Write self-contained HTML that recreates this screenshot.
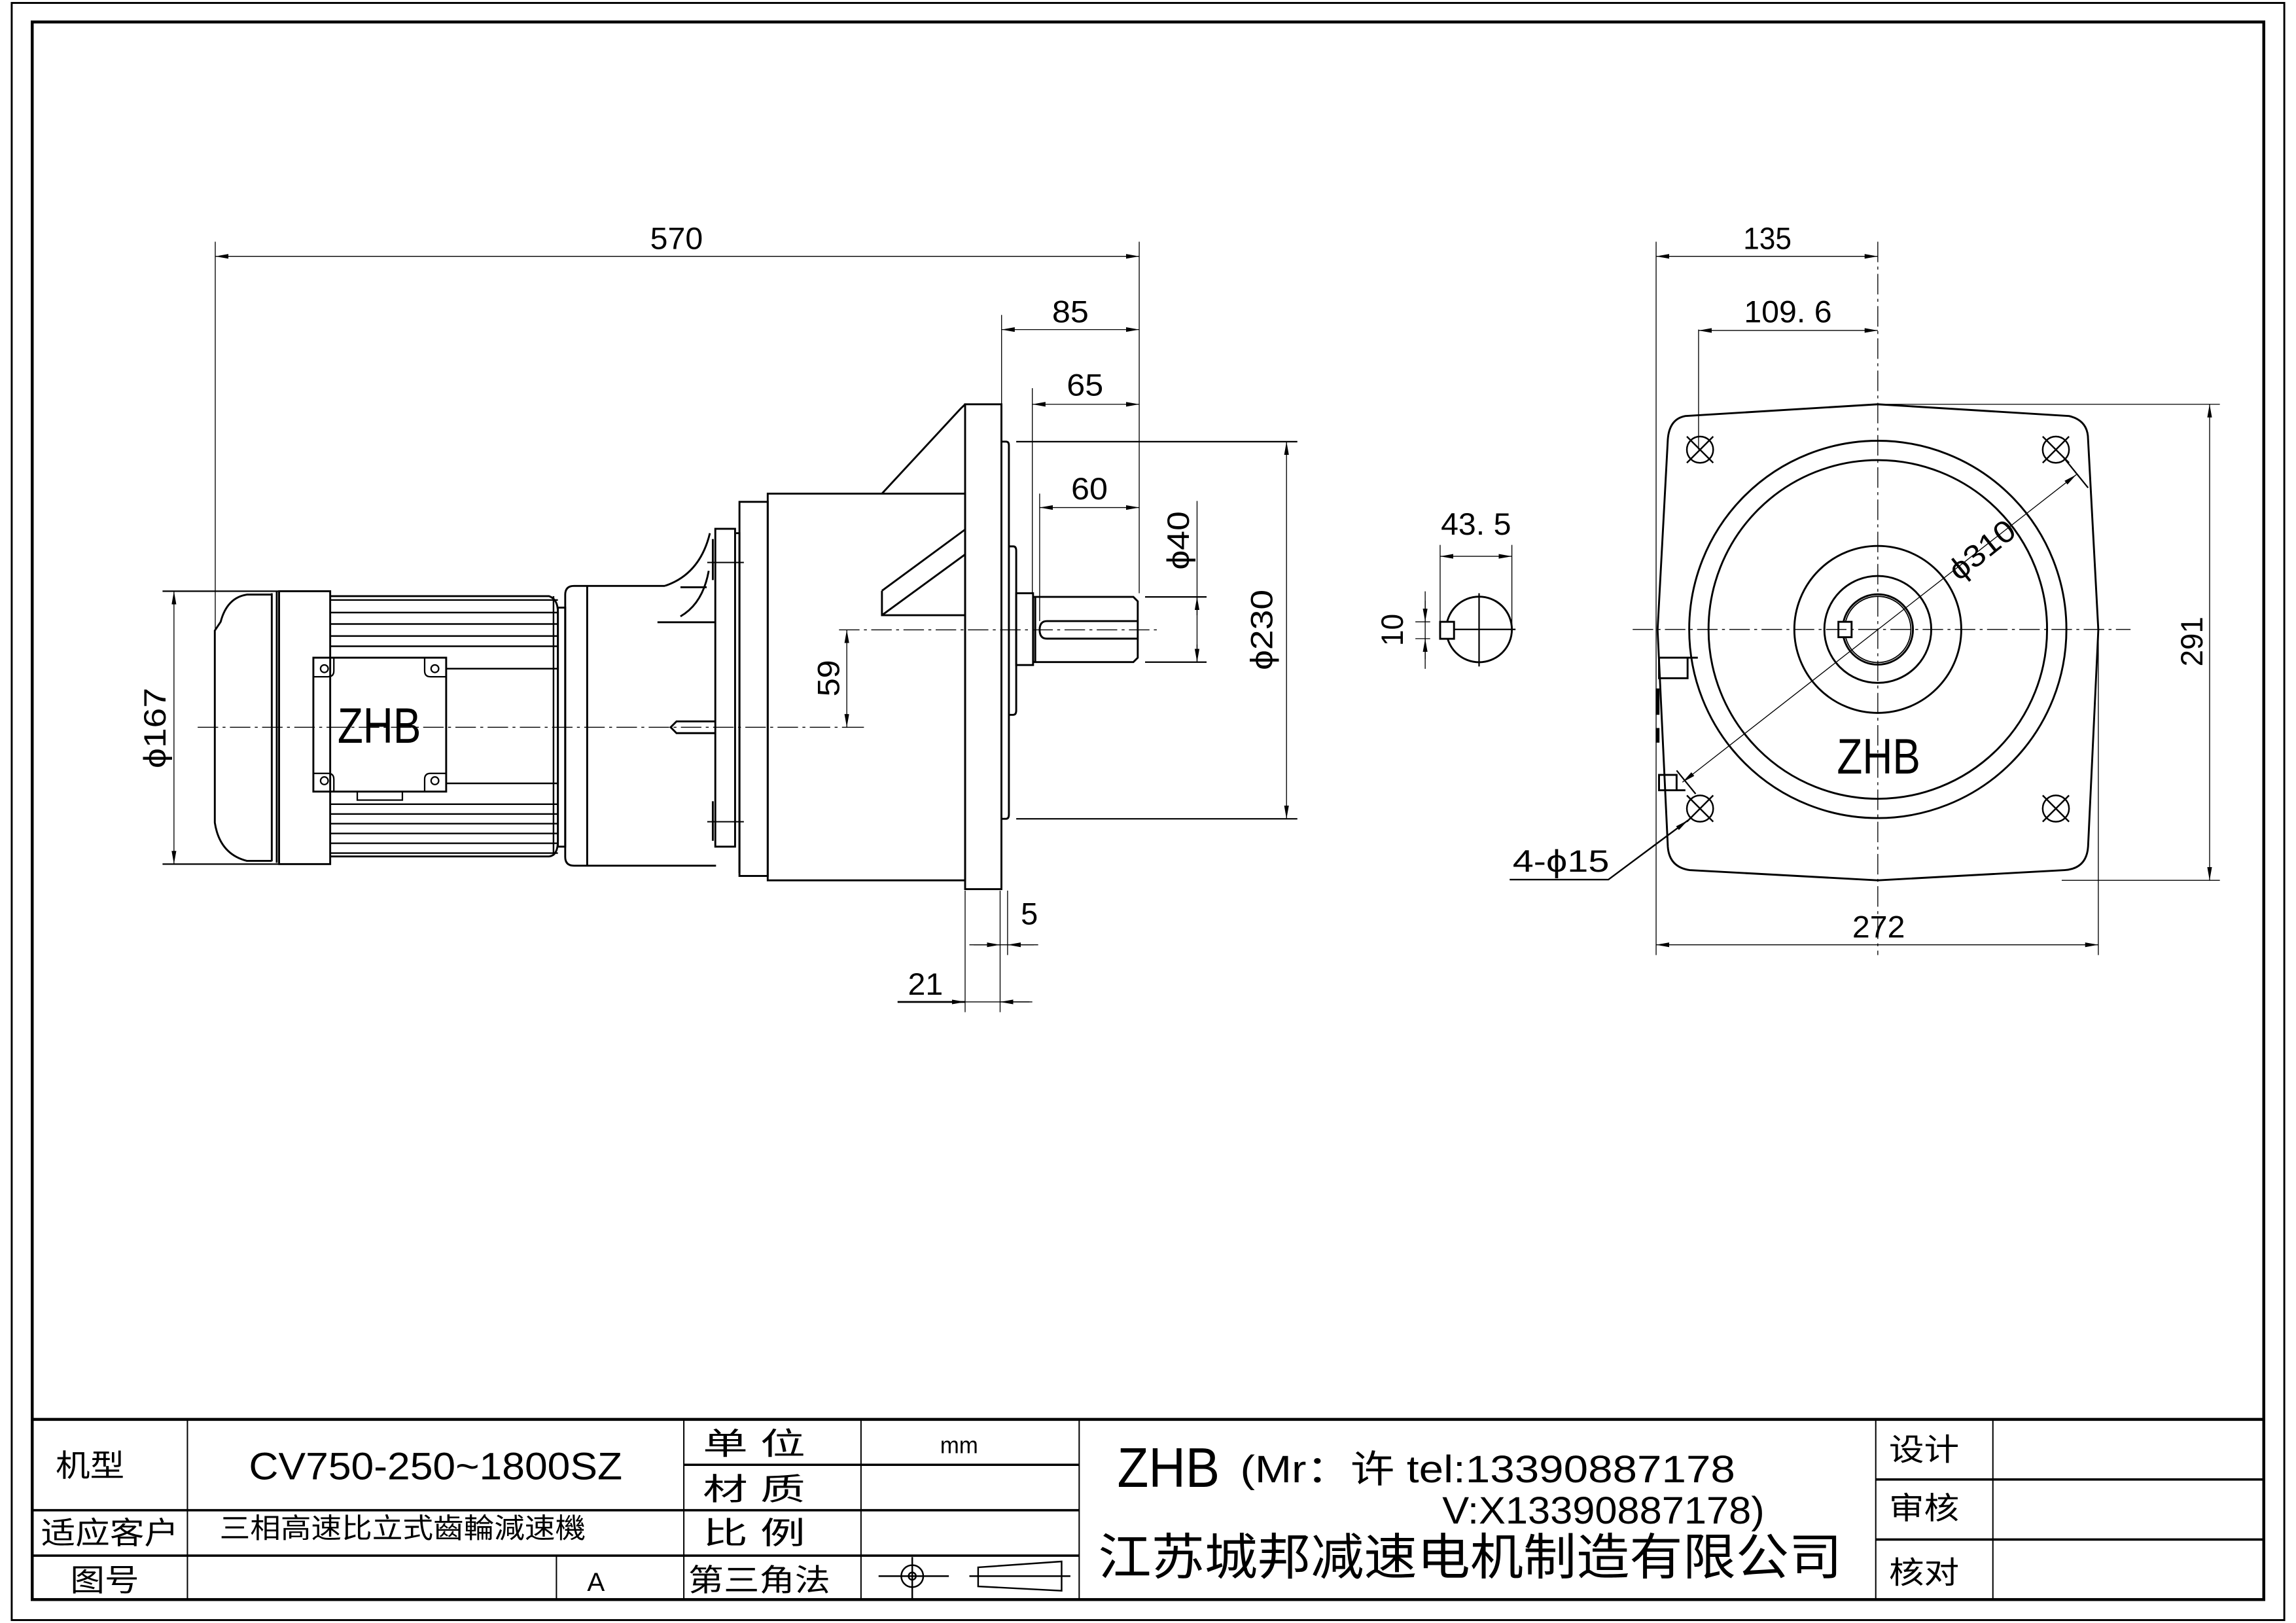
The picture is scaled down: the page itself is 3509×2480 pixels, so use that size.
<!DOCTYPE html>
<html><head><meta charset="utf-8"><style>
html,body{margin:0;padding:0;background:#fff}
svg{display:block}
text{font-family:"Liberation Sans","Noto Sans CJK SC",sans-serif;fill:#000}
.k{stroke:#000;fill:none;stroke-width:1.3}
.t{stroke:#000;fill:none;stroke-width:0.6}
.c{stroke:#000;fill:none;stroke-width:0.6;stroke-dasharray:14 3 2 3}
.b{stroke:#000;fill:none;stroke-width:2}
</style></head><body>
<svg width="3509" height="2480" viewBox="0 0 1568 1108" preserveAspectRatio="none" xmlns="http://www.w3.org/2000/svg">
<defs>
<marker id="a" markerUnits="userSpaceOnUse" markerWidth="10" markerHeight="4" refX="9" refY="1.6" orient="auto-start-reverse"><path d="M0,0 L9,1.6 L0,3.2 Z" fill="#000"/></marker>
</defs>
<rect x="0" y="0" width="1568" height="1108" fill="#fff"/>
<rect x="8" y="2" width="1552" height="1104" class="k"/>
<rect x="22" y="15" width="1524" height="1077" class="b"/>
<line x1="22" y1="969" x2="1546" y2="969" class="b"/>
<g class="t" style="stroke-width:0.9">
<line x1="128" y1="969" x2="128" y2="1092"/><line x1="467" y1="969" x2="467" y2="1092"/>
<line x1="588" y1="969" x2="588" y2="1092"/><line x1="737" y1="969" x2="737" y2="1092"/>
<line x1="1281" y1="969" x2="1281" y2="1092"/><line x1="1361" y1="969" x2="1361" y2="1092"/>
<line x1="380" y1="1062" x2="380" y2="1092"/>
</g>
<g class="b" style="stroke-width:1.6">
<line x1="467" y1="1000" x2="737" y2="1000"/>
<line x1="22" y1="1031" x2="737" y2="1031"/>
<line x1="22" y1="1062" x2="737" y2="1062"/>
<line x1="1281" y1="1010" x2="1546" y2="1010"/>
<line x1="1281" y1="1051" x2="1546" y2="1051"/>
</g>
<text x="38" y="1008" font-size="21" textLength="47" lengthAdjust="spacingAndGlyphs">机型</text>
<text x="170" y="1010" font-size="26" textLength="255" lengthAdjust="spacingAndGlyphs">CV750-250~1800SZ</text>
<text x="480" y="993" font-size="21" textLength="70" lengthAdjust="spacingAndGlyphs">单  位</text>
<text x="642" y="992" font-size="16" textLength="26" lengthAdjust="spacingAndGlyphs">mm</text>
<text x="480" y="1024" font-size="21" textLength="70" lengthAdjust="spacingAndGlyphs">材  质</text>
<text x="28" y="1054" font-size="21" textLength="94" lengthAdjust="spacingAndGlyphs">适应客户</text>
<text x="150" y="1050" font-size="19" textLength="250" lengthAdjust="spacingAndGlyphs">三相高速比立式齒輪減速機</text>
<text x="480" y="1054" font-size="21" textLength="70" lengthAdjust="spacingAndGlyphs">比  例</text>
<text x="48" y="1086" font-size="21" textLength="47" lengthAdjust="spacingAndGlyphs">图号</text>
<text x="401" y="1086" font-size="18">A</text>
<text x="470" y="1086" font-size="21" textLength="97" lengthAdjust="spacingAndGlyphs">第三角法</text>
<g class="k" style="stroke-width:1.1">
<circle cx="623" cy="1076" r="7.5"/><circle cx="623" cy="1076" r="2.5"/>
<line x1="600" y1="1076" x2="648" y2="1076"/><line x1="623" y1="1063" x2="623" y2="1092"/>
<path d="M668,1070 L725,1066 L725,1086 L668,1083 Z"/>
<line x1="662" y1="1076" x2="731" y2="1076"/>
</g>
<text x="763" y="1015" font-size="38" textLength="70" lengthAdjust="spacingAndGlyphs">ZHB</text>
<text x="847" y="1012" font-size="26" textLength="338" lengthAdjust="spacingAndGlyphs">(Mr：许 tel:13390887178</text>
<text x="985" y="1040" font-size="26" textLength="220" lengthAdjust="spacingAndGlyphs">V:X13390887178)</text>
<text x="750" y="1075" font-size="34" textLength="508" lengthAdjust="spacingAndGlyphs">江苏城邦减速电机制造有限公司</text>
<text x="1290" y="997" font-size="21" textLength="48" lengthAdjust="spacingAndGlyphs">设计</text>
<text x="1290" y="1037" font-size="21" textLength="48" lengthAdjust="spacingAndGlyphs">审核</text>
<text x="1290" y="1081" font-size="21" textLength="48" lengthAdjust="spacingAndGlyphs">核对</text>

<g class="k">
<path d="M185.6,405.9 L168.6,405.9 Q155,408 150.7,424.5 L146.7,430.5 L146.7,561.6 Q150,583 168.6,587.7 L185.6,587.7"/>
<line x1="185.6" y1="405" x2="185.6" y2="588"/>
<line x1="189" y1="404" x2="189" y2="589"/>
<rect x="190.6" y="403.6" width="34.9" height="186.3"/>
<path d="M225.5,407 L375,407 Q381,409 381,418 L381,574 Q381,584 375,584.7 L225.5,584.7"/>
<rect x="381" y="414.8" width="5" height="163.2"/>
</g>
<g class="k" style="stroke-width:1.1">
<line x1="225.5" y1="409.6" x2="381" y2="409.6"/><line x1="225.5" y1="418.2" x2="381" y2="418.2"/>
<line x1="225.5" y1="426" x2="381" y2="426"/><line x1="225.5" y1="434.2" x2="381" y2="434.2"/>
<line x1="225.5" y1="441.2" x2="381" y2="441.2"/><line x1="304.7" y1="456.5" x2="381" y2="456.5"/>
<line x1="304.7" y1="534.8" x2="381" y2="534.8"/><line x1="225.5" y1="549" x2="381" y2="549"/>
<line x1="225.5" y1="555.7" x2="381" y2="555.7"/><line x1="225.5" y1="562.3" x2="381" y2="562.3"/>
<line x1="225.5" y1="569" x2="381" y2="569"/><line x1="225.5" y1="575.7" x2="381" y2="575.7"/>
<line x1="225.5" y1="582.4" x2="381" y2="582.4"/>
<line x1="378" y1="407" x2="378" y2="584"/>
</g>
<rect x="214" y="449" width="90.7" height="91.4" fill="#fff" class="k"/>
<g class="k" style="stroke-width:1">
<path d="M214,462 L224,462 Q228,462 228,458 L228,449"/>
<path d="M304.7,462 L294,462 Q290,462 290,458 L290,449"/>
<path d="M214,528 L224,528 Q228,528 228,532 L228,540.4"/>
<path d="M304.7,528 L294,528 Q290,528 290,532 L290,540.4"/>
<circle cx="221.5" cy="456.5" r="2.6"/><circle cx="297" cy="456.5" r="2.6"/>
<circle cx="221.5" cy="533" r="2.6"/><circle cx="297" cy="533" r="2.6"/>
<rect x="244" y="540.4" width="30.8" height="5.8"/>
</g>
<text x="259" y="507" font-size="34" text-anchor="middle" textLength="57" lengthAdjust="spacingAndGlyphs">ZHB</text>

<g class="k">
<path d="M454,400 L392,400 Q386,400 386,406 L386,585 Q386,591 392,591 L489,591"/>
<line x1="401" y1="400" x2="401" y2="591"/>
<line x1="449" y1="424.8" x2="489" y2="424.8"/>
<path d="M454,400 Q478,392 484.8,364"/>
<path d="M464.7,420.8 Q480,412 484,389.7"/>
<line x1="464.7" y1="400.9" x2="482.6" y2="400.9"/>
<rect x="488.5" y="361" width="13.5" height="217"/>
<line x1="486.8" y1="368" x2="486.8" y2="396"/><line x1="486.8" y1="547" x2="486.8" y2="574"/>
<path d="M502.7,364 L505,364 L505,596"/>
<rect x="505" y="342.6" width="19.3" height="255.4"/>
<rect x="524.3" y="337" width="134.8" height="264"/>
<path d="M489,492.5 L462,492.5 L458,496.5 L462,500.5 L489,500.5"/>
<rect x="659.1" y="276" width="24.8" height="331"/>
<path d="M683.9,301.5 L687,301.5 Q689,301.5 689,304 L689,556 Q689,559 687,559 L683.9,559"/>
<path d="M689,373 L692,373 Q694,373 694,376 L694,485 Q694,488 692,488 L689,488"/>
<rect x="694" y="405" width="11.5" height="49"/>
<path d="M705.5,407.5 L774,407.5 L777,410.5 L777,449 L774,452 L705.5,452"/>
<line x1="707" y1="407.5" x2="707" y2="452"/>
<path d="M777,424 L715,424 Q710,424 710,430 Q710,436 715,436 L777,436"/>
<path d="M602.3,337 L656,279 L659.1,276"/>
<path d="M602.3,403.3 L659.1,361.5 M602.3,420 L659.1,378.5 M602.3,403.3 L602.3,420 L659.1,420"/>
</g>
<g class="t">
<line x1="483" y1="384" x2="508" y2="384" style="stroke-width:0.9"/>
<line x1="483" y1="561" x2="508" y2="561" style="stroke-width:0.9"/>
</g>
<line x1="135" y1="496.5" x2="580" y2="496.5" class="c"/>
<line x1="573" y1="430" x2="790" y2="430" class="c"/>
<g class="t">
<line x1="147" y1="165" x2="147" y2="430"/>
<line x1="778" y1="165" x2="778" y2="405"/>
<line x1="147" y1="175" x2="778" y2="175" marker-start="url(#a)" marker-end="url(#a)"/>
<line x1="684" y1="215" x2="684" y2="276"/>
<line x1="684" y1="225" x2="778" y2="225" marker-start="url(#a)" marker-end="url(#a)"/>
<line x1="705" y1="265" x2="705" y2="405"/>
<line x1="705" y1="276" x2="778" y2="276" marker-start="url(#a)" marker-end="url(#a)"/>
<line x1="710" y1="337" x2="710" y2="424"/>
<line x1="710" y1="346.5" x2="778" y2="346.5" marker-start="url(#a)" marker-end="url(#a)"/>
<line x1="782" y1="407.5" x2="824" y2="407.5" class="k" style="stroke-width:1"/>
<line x1="782" y1="452" x2="824" y2="452" class="k" style="stroke-width:1"/>
<line x1="817.5" y1="342" x2="817.5" y2="452"/>
<line x1="817.5" y1="420" x2="817.5" y2="407.5" marker-end="url(#a)"/>
<line x1="817.5" y1="440" x2="817.5" y2="452" marker-end="url(#a)"/>
<line x1="694" y1="301.5" x2="886" y2="301.5" class="k" style="stroke-width:1"/>
<line x1="694" y1="559" x2="886" y2="559" class="k" style="stroke-width:1"/>
<line x1="878.6" y1="301.5" x2="878.6" y2="559" marker-start="url(#a)" marker-end="url(#a)"/>
<line x1="578.3" y1="430" x2="578.3" y2="496.5" marker-start="url(#a)" marker-end="url(#a)"/>
<line x1="580" y1="496.5" x2="590" y2="496.5"/>
<line x1="111" y1="403.6" x2="190" y2="403.6" class="k" style="stroke-width:1"/>
<line x1="111" y1="589.9" x2="190" y2="589.9" class="k" style="stroke-width:1"/>
<line x1="118.8" y1="403.6" x2="118.8" y2="589.9" marker-start="url(#a)" marker-end="url(#a)"/>
<line x1="659.1" y1="608" x2="659.1" y2="691"/>
<line x1="683" y1="608" x2="683" y2="691"/>
<line x1="688.1" y1="608" x2="688.1" y2="652"/>
<line x1="662" y1="645" x2="709" y2="645"/>
<line x1="665" y1="645" x2="683" y2="645" marker-end="url(#a)"/>
<line x1="706" y1="645" x2="688.1" y2="645" marker-end="url(#a)"/>
<line x1="613" y1="684" x2="705" y2="684"/>
<line x1="613" y1="684" x2="659.1" y2="684" marker-end="url(#a)" class="k" style="stroke-width:1.2"/>
<line x1="703" y1="684" x2="683" y2="684" marker-end="url(#a)"/>
</g>
<g font-size="21">
<text x="462" y="170" text-anchor="middle" textLength="36" lengthAdjust="spacingAndGlyphs">570</text>
<text x="731" y="220" text-anchor="middle" textLength="25" lengthAdjust="spacingAndGlyphs">85</text>
<text x="741" y="270" text-anchor="middle" textLength="25" lengthAdjust="spacingAndGlyphs">65</text>
<text x="744" y="341" text-anchor="middle" textLength="25" lengthAdjust="spacingAndGlyphs">60</text>
<text x="703" y="631" text-anchor="middle">5</text>
<text x="632" y="679" text-anchor="middle" textLength="24" lengthAdjust="spacingAndGlyphs">21</text>
<text transform="translate(812,369) rotate(-90)" text-anchor="middle" textLength="40" lengthAdjust="spacingAndGlyphs">ϕ40</text>
<text transform="translate(869,430) rotate(-90)" text-anchor="middle" textLength="55" lengthAdjust="spacingAndGlyphs">ϕ230</text>
<text transform="translate(573,463) rotate(-90)" text-anchor="middle" textLength="25" lengthAdjust="spacingAndGlyphs">59</text>
<text transform="translate(113,497) rotate(-90)" text-anchor="middle" textLength="55" lengthAdjust="spacingAndGlyphs">ϕ167</text>
</g>

<g class="k">
<circle cx="1010.1" cy="429.7" r="22.4"/>
<rect x="983.5" y="424.5" width="9.5" height="11.6" fill="#fff"/>
</g>
<g class="t">
<line x1="1010.1" y1="405" x2="1010.1" y2="455" style="stroke-width:1"/>
<line x1="993" y1="429.7" x2="1035" y2="429.7" style="stroke-width:1"/>
<line x1="983.5" y1="372" x2="983.5" y2="424"/>
<line x1="1032.5" y1="372" x2="1032.5" y2="428"/>
<line x1="983.5" y1="379.8" x2="1032.5" y2="379.8" marker-start="url(#a)" marker-end="url(#a)"/>
<line x1="966.6" y1="424.5" x2="976.7" y2="424.5"/>
<line x1="966.6" y1="436" x2="976.7" y2="436"/>
<line x1="973.3" y1="403.7" x2="973.3" y2="456.6"/>
<line x1="973.3" y1="410" x2="973.3" y2="424.5" marker-end="url(#a)"/>
<line x1="973.3" y1="450" x2="973.3" y2="436" marker-end="url(#a)"/>
</g>
<text x="1008" y="365" font-size="21" text-anchor="middle" textLength="48" lengthAdjust="spacingAndGlyphs">43. 5</text>
<text transform="translate(958,430) rotate(-90)" font-size="21" text-anchor="middle" textLength="22" lengthAdjust="spacingAndGlyphs">10</text>

<g class="k">
<path d="M1151,284 L1282.4,276 L1413,284 Q1426,287 1426,300 L1433,430 L1426,578 Q1425,593 1410,594 L1282.4,601 L1154,594 Q1140,592 1139,578 L1132,430 L1139,300 Q1140,286 1151,284 Z"/>
<circle cx="1282.4" cy="429.7" r="128.8"/>
<circle cx="1282.4" cy="429.7" r="115.6"/>
<circle cx="1282.4" cy="429.7" r="57"/>
<circle cx="1282.4" cy="429.7" r="36.5"/>
<circle cx="1282.4" cy="429.7" r="24"/>
<circle cx="1282.4" cy="429.7" r="22.6" style="stroke-width:0.8"/>
<rect x="1255.5" y="424.5" width="9" height="10.5" fill="#fff"/>
<g style="stroke-width:1.1">
<circle cx="1161" cy="307" r="9"/><path d="M1152,298 L1170,316 M1170,298 L1152,316"/>
<circle cx="1404" cy="307" r="9"/><path d="M1395,298 L1413,316 M1413,298 L1395,316"/>
<circle cx="1161" cy="552" r="9"/><path d="M1152,543 L1170,561 M1170,543 L1152,561"/>
<circle cx="1404" cy="552" r="9"/><path d="M1395,543 L1413,561 M1413,543 L1395,561"/>
</g>
<rect x="1133" y="449" width="19.5" height="14"/>
<line x1="1152.5" y1="449" x2="1159.5" y2="449"/>
<rect x="1133" y="529" width="12" height="10.5"/>
<line x1="1145" y1="539.5" x2="1151" y2="539.5"/>
<line x1="1132" y1="470" x2="1132" y2="488" style="stroke-width:2.6"/>
<line x1="1132" y1="497" x2="1132" y2="507" style="stroke-width:2.6"/>
</g>
<g class="t">
<line x1="1115" y1="429.7" x2="1455" y2="429.7" class="c"/>
<line x1="1282.4" y1="165" x2="1282.4" y2="652" class="c"/>
<line x1="1131" y1="165" x2="1131" y2="652"/>
<line x1="1131" y1="175" x2="1282.4" y2="175" marker-start="url(#a)" marker-end="url(#a)"/>
<line x1="1160" y1="225" x2="1160" y2="307"/>
<line x1="1160" y1="225.6" x2="1282.4" y2="225.6" marker-start="url(#a)" marker-end="url(#a)"/>
<line x1="1282.4" y1="276" x2="1516" y2="276"/>
<line x1="1408" y1="601" x2="1516" y2="601"/>
<line x1="1509" y1="276" x2="1509" y2="601" marker-start="url(#a)" marker-end="url(#a)"/>
<line x1="1433" y1="430" x2="1433" y2="652"/>
<line x1="1131" y1="645" x2="1433" y2="645" marker-start="url(#a)" marker-end="url(#a)"/>
<line x1="1149" y1="534" x2="1418" y2="324" marker-start="url(#a)" marker-end="url(#a)"/>
<line x1="1409" y1="312" x2="1426" y2="333" class="k" style="stroke-width:1"/>
<line x1="1145" y1="526" x2="1158" y2="542" class="k" style="stroke-width:1"/>
</g>
<path d="M1031,600.5 L1098.4,600.5 L1152.8,560" class="k" style="stroke-width:1.1" marker-end="url(#a)"/>
<g font-size="21">
<text x="1207" y="170" text-anchor="middle" textLength="33" lengthAdjust="spacingAndGlyphs">135</text>
<text x="1221" y="220" text-anchor="middle" textLength="60" lengthAdjust="spacingAndGlyphs">109. 6</text>
<text x="1283" y="640" text-anchor="middle" textLength="36" lengthAdjust="spacingAndGlyphs">272</text>
<text transform="translate(1504,438) rotate(-90)" text-anchor="middle" textLength="34" lengthAdjust="spacingAndGlyphs">291</text>
<text transform="translate(1358,381) rotate(-38.7)" text-anchor="middle" textLength="52" lengthAdjust="spacingAndGlyphs">ϕ310</text>
<text x="1033" y="595" textLength="66" lengthAdjust="spacingAndGlyphs">4-ϕ15</text>
</g>
<text x="1283" y="528" font-size="34" text-anchor="middle" textLength="57" lengthAdjust="spacingAndGlyphs">ZHB</text>
</svg>
</body></html>
